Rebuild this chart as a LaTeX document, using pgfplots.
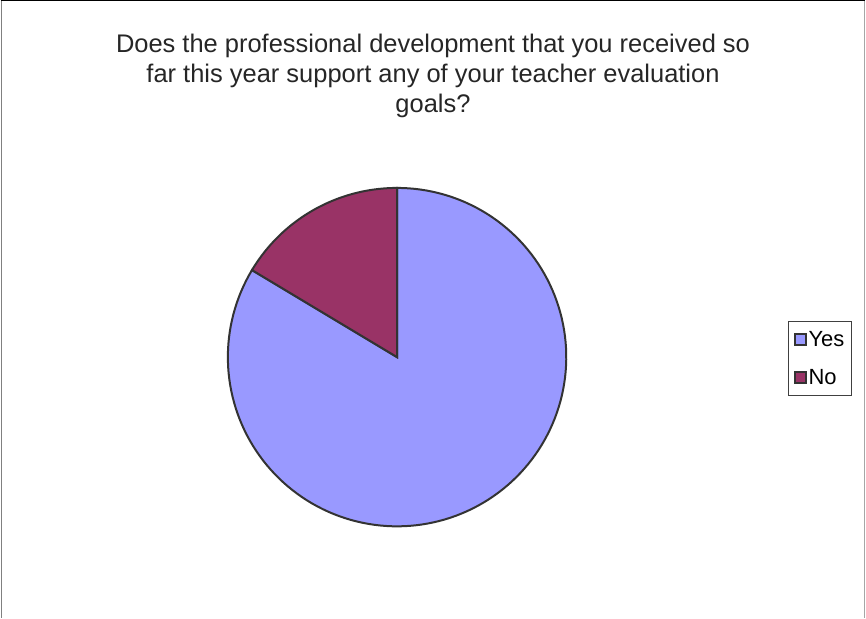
\documentclass[border=0pt]{standalone}
\usepackage{fontspec}
\setmainfont{Liberation Sans}
\usepackage{pgfplots}
\pgfplotsset{compat=1.18}
\definecolor{yescol}{HTML}{9999FF}
\definecolor{nocol}{HTML}{993366}
\definecolor{edge}{HTML}{333333}
\def\yesval{83.6}
\def\noval{16.4}
\begin{document}
\begin{tikzpicture}
\begin{axis}[
  width=866pt, height=618pt, scale only axis,
  xmin=0, xmax=866, ymin=0, ymax=618,
  hide axis, clip=false,
  legend style={at={(axis cs:789,297)}, anchor=north west,
    draw=black!75, line width=0.8pt, font=\fontsize{22}{24}\selectfont,
    inner xsep=5pt, inner ysep=8pt, row sep=17pt},
  legend cell align=left,
  legend image code/.code={\draw[#1, line width=1.8pt, draw=edge] (0pt,-5.5pt) rectangle (11pt,5.5pt);},
]
\pgfmathsetmacro{\split}{90+\noval*3.6}
\addplot[fill=yescol, draw=edge, line width=2pt, domain=\split:450, samples=150, variable=\t]
  ({397+169.5*cos(\t)},{261+169.5*sin(\t)}) -- (axis cs:397,261) -- cycle;
\addlegendentry{Yes}
\addplot[fill=nocol, draw=edge, line width=2pt, domain=90:\split, samples=40, variable=\t]
  ({397+169.5*cos(\t)},{261+169.5*sin(\t)}) -- (axis cs:397,261) -- cycle;
\addlegendentry{No}
\node[align=center, text=black!85, font=\fontsize{25.5}{30}\selectfont] at (axis cs:433,543)
  {Does the professional development that you received so\\ far this year support any of your teacher evaluation\\ goals?};
\draw[black, line width=1.5pt] (axis cs:0,618) -- (axis cs:866,618);
\draw[gray, line width=1.2pt] (axis cs:0.6,0) -- (axis cs:0.6,618);
\draw[black!35, line width=1.2pt] (axis cs:865,0) -- (axis cs:865,618);
\end{axis}
\end{tikzpicture}
\end{document}
